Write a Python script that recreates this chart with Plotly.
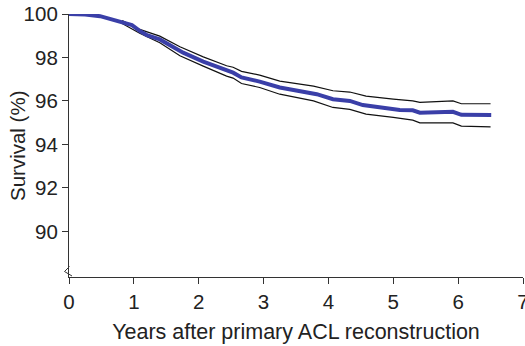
import plotly.graph_objects as go

# Kaplan-Meier survival estimate (years, %)
years = [0, 0.25, 0.48, 0.79, 0.97, 1.09, 1.2, 1.4, 1.5, 1.71, 1.76, 2.07, 2.43, 2.53, 2.66, 2.94, 3.25, 3.51, 3.77, 3.82, 4.07, 4.33, 4.53, 4.58, 4.79, 5.0, 5.1, 5.3, 5.41, 5.92, 6.05, 6.51]
survival = [100, 99.98, 99.9, 99.65, 99.49, 99.22, 99.03, 98.83, 98.65, 98.29, 98.22, 97.81, 97.38, 97.30, 97.08, 96.89, 96.62, 96.47, 96.33, 96.31, 96.08, 96.0, 95.81, 95.79, 95.70, 95.64, 95.58, 95.57, 95.46, 95.50, 95.36, 95.35]

# 95% confidence bounds
ci_years = [0.82, 1.09, 1.4, 1.71, 2.07, 2.43, 2.53, 2.66, 2.94, 3.25, 3.77, 4.07, 4.33, 4.58, 5.0, 5.3, 5.41, 5.92, 6.05, 6.5]
upper = [99.70, 99.29, 98.98, 98.49, 98.03, 97.62, 97.55, 97.36, 97.19, 96.91, 96.68, 96.47, 96.41, 96.22, 96.08, 96.0, 95.93, 96.0, 95.87, 95.87]
lower = [99.56, 99.11, 98.68, 98.08, 97.60, 97.14, 97.05, 96.80, 96.62, 96.31, 96.0, 95.70, 95.61, 95.39, 95.24, 95.12, 94.99, 94.99, 94.84, 94.81]

x_ticks = [0, 1, 2, 3, 4, 5, 6, 7]
y_ticks = [90, 92, 94, 96, 98, 100]

fig = go.Figure()
fig.add_trace(go.Scatter(x=ci_years, y=upper, mode="lines",
                         line=dict(color="#111111", width=1.2), cliponaxis=False, showlegend=False))
fig.add_trace(go.Scatter(x=ci_years, y=lower, mode="lines",
                         line=dict(color="#111111", width=1.2), cliponaxis=False, showlegend=False))
fig.add_trace(go.Scatter(x=years, y=survival, mode="lines",
                         line=dict(color="#3a3fa8", width=4), cliponaxis=False, showlegend=False))

font = "Liberation Sans, Arial, Helvetica, sans-serif"
fig.update_layout(
    width=525, height=346,
    margin=dict(l=69, r=2, t=14, b=69),
    paper_bgcolor="white", plot_bgcolor="white",
    font=dict(family=font, size=20, color="#222222"),
    xaxis=dict(range=[0, 7], tickvals=x_ticks, ticks="outside", ticklen=6, tickcolor="#333",
               showline=True, linecolor="#333", linewidth=1.2, showgrid=False, zeroline=False,
               automargin=False, ticklabeloverflow="allow",
               tickfont=dict(size=20.5), title=dict(text="Years after primary ACL reconstruction",
                                                   font=dict(size=21.5), standoff=12)),
    yaxis=dict(range=[87.9, 100], tickvals=y_ticks, ticks="outside", ticklen=6, tickcolor="#333",
               showline=True, linecolor="#333", linewidth=1.2, showgrid=False, zeroline=False,
               automargin=False, ticklabeloverflow="allow",
               tickfont=dict(size=20.5)),
    annotations=[dict(text="Survival (%)", xref="paper", yref="paper",
                      x=(17 - 69) / 454, y=(277 - 146) / 263, textangle=-90,
                      showarrow=False, font=dict(size=20.5), xanchor="center", yanchor="middle")],
)

# axis break mark
def px(xp): return (xp - 69) / 454
def py(yp): return (277 - yp) / 263
fig.add_shape(type="path", xref="paper", yref="paper",
              path=f"M {px(69.5)} {py(266.5)} L {px(64.5)} {py(271.5)} L {px(72)} {py(276)}",
              line=dict(color="#333", width=1))

fig.write_html("out.html", config={"displayModeBar": False},
               post_script="document.body.style.margin='0';")
